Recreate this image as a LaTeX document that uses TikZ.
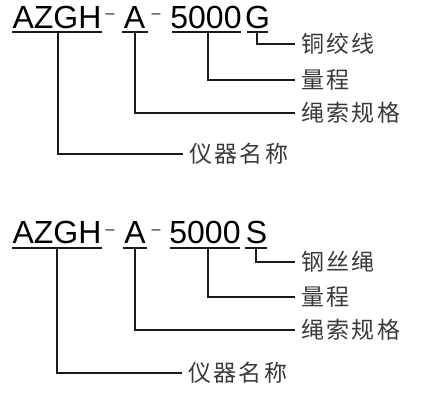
\documentclass[tikz,border=0pt]{standalone}
\usepackage{fontspec}
\setmainfont{Liberation Sans}
\newfontfamily\cjk[LetterSpace=10]{Noto Sans CJK SC}
\definecolor{labc}{HTML}{3A3A3A}
\definecolor{lnc}{HTML}{1A1A1A}
\begin{document}
\begin{tikzpicture}[x=1pt,y=-1pt,
  code/.style={font=\fontsize{32}{32}\selectfont, inner sep=0pt, anchor=base, text=black},
  dashc/.style={font=\fontsize{16}{16}\selectfont, inner sep=0pt, anchor=base, text=lnc},
  lab/.style={font=\cjk\fontsize{23}{23}\selectfont, text=labc, anchor=west,
    inner xsep=6pt, inner ysep=0pt, text height=18.4pt, text depth=1.15pt},
  uline/.style={line width=1.8pt, draw=lnc},
  conn/.style={line width=1.4pt, draw=lnc}]
\path[use as bounding box] (0,0) rectangle (437,402);
% ---------- top block ----------
\node[code] (t1) at (57,28) {AZGH};
\node[dashc] (td1) at (110,18.3) {–};
\node[code] (t2) at (134.5,28) {A};
\node[dashc] (td2) at (156,18.3) {–};
\node[code] (t3) at (206,28) {5000};
\node[code] (t4) at (257.5,28) {G};
\draw[uline] (12,32) -- (102,32);
\draw[uline] (122,32) -- (148,32);
\draw[uline] (172,32) -- (241,32);
\draw[uline] (247,32) -- (268,32);
\coordinate (tu1) at (58,32);
\coordinate (tu2) at (135,32);
\coordinate (tu3) at (208,32);
\coordinate (tu4) at (257,32);
\node[lab] (tl4) at (295,44) {铜绞线};
\node[lab] (tl3) at (295,80) {量程};
\node[lab] (tl2) at (295,113) {绳索规格};
\node[lab] (tl1) at (183,154) {仪器名称};
\draw[conn] (tu4) |- (tl4.west);
\draw[conn] (tu3) |- (tl3.west);
\draw[conn] (tu2) |- (tl2.west);
\draw[conn] (tu1) |- (tl1.west);
% ---------- bottom block ----------
\node[code] (b1) at (57,243.5) {AZGH};
\node[dashc] (bd1) at (110,234.4) {–};
\node[code] (b2) at (135,243.5) {A};
\node[dashc] (bd2) at (156,234.4) {–};
\node[code] (b3) at (205,243.5) {5000};
\node[code] (b4) at (256.5,243.5) {S};
\draw[uline] (12,248) -- (102,248);
\draw[uline] (123,248) -- (147,248);
\draw[uline] (170,248) -- (240,248);
\draw[uline] (245,248) -- (267,248);
\coordinate (bu1) at (57,248);
\coordinate (bu2) at (135,248);
\coordinate (bu3) at (208,248);
\coordinate (bu4) at (256,248);
\node[lab] (bl4) at (295,262) {钢丝绳};
\node[lab] (bl3) at (295,297) {量程};
\node[lab] (bl2) at (295,330) {绳索规格};
\node[lab] (bl1) at (182,373) {仪器名称};
\draw[conn] (bu4) |- (bl4.west);
\draw[conn] (bu3) |- (bl3.west);
\draw[conn] (bu2) |- (bl2.west);
\draw[conn] (bu1) |- (bl1.west);
\end{tikzpicture}
\end{document}
